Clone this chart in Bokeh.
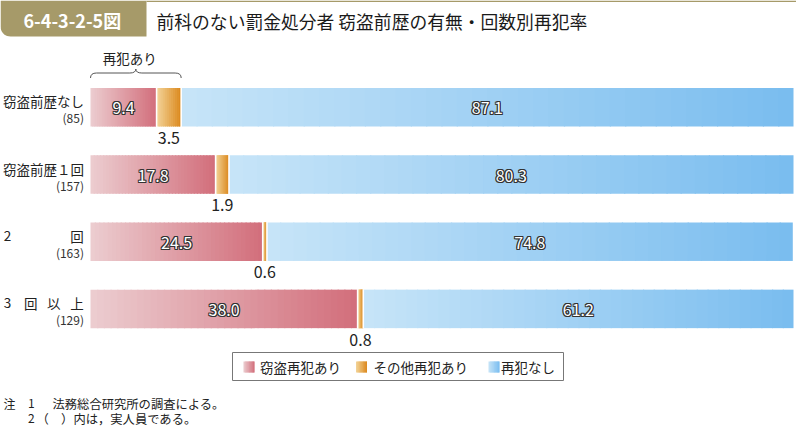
import numpy as np
from bokeh.plotting import figure
from bokeh.models import Range1d
from bokeh.core.properties import value
from bokeh.embed import file_html
from bokeh.resources import INLINE

# ---------------- data ----------------
fig_no = "6-4-3-2-5図"
title = "前科のない罰金処分者 窃盗前歴の有無・回数別再犯率"
categories = ["窃盗前歴なし", "窃盗前歴１回", "2　回", "3　回　以　上"]
counts = ["(85)", "(157)", "(163)", "(129)"]
theft_recid = [9.4, 17.8, 24.5, 38.0]     # 窃盗再犯あり
other_recid = [3.5, 1.9, 0.6, 0.8]        # その他再犯あり
no_recid = [87.1, 80.3, 74.8, 61.2]       # 再犯なし
legend_labels = ["窃盗再犯あり", "その他再犯あり", "再犯なし"]
brace_label = "再犯あり"
notes = [("注", "1", "法務総合研究所の調査による。"),
         ("", "2", "（　）内は，実人員である。")]

# ---------------- layout ----------------
FONT = value("Noto Sans CJK JP")
X0PX, PXU = 90.0, 7.03          # pixel of 0 %, pixels per %
ROW0, STEP, BAR_H = 106.8, 67.2, 38.5
W, H = 796, 427


def px(xref):
    return (xref - X0PX) / PXU


p = figure(width=W, height=H, x_range=Range1d(px(0), px(W)),
           y_range=Range1d(H, 0), output_backend="svg",
           toolbar_location=None, x_axis_type=None, y_axis_type=None,
           min_border=0, min_border_left=0, min_border_right=0,
           min_border_top=0, min_border_bottom=0)
p.grid.visible = False
p.outline_line_color = None
p.background_fill_color = "white"
p.border_fill_color = "white"

theft = np.array(theft_recid)
other = np.array(other_recid)
nore = np.array(no_recid)
ys = ROW0 + STEP * np.arange(len(categories))

RED = ((236, 205, 208), (210, 110, 123))
ORA = ((243, 213, 155), (219, 136, 28))
BLU = ((199, 228, 248), (121, 189, 239))


def hexc(c):
    return "#%02x%02x%02x" % tuple(int(round(v)) for v in c)


def grad(lefts, widths, yc, hgt, cols, n=40):
    c0, c1 = np.array(cols[0], float), np.array(cols[1], float)
    lefts, widths = np.asarray(lefts, float), np.asarray(widths, float)
    ov = 1.2 / PXU
    for k in range(n):
        t = (k + 0.5) / n
        col = hexc(c0 + (c1 - c0) * t)
        L = lefts + widths * k / n
        R = lefts + widths * (k + 1) / n
        if k < n - 1:
            R = np.minimum(R + ov, lefts + widths)
        p.hbar(y=yc, left=L, right=R, height=hgt, fill_color=col,
               line_color=None)


grad(np.zeros(4), theft, ys, BAR_H, RED)
grad(theft, other, ys, BAR_H, ORA, n=12)
grad(theft + other, nore, ys, BAR_H, BLU)

# white separators
b1 = theft
b2 = theft + other
p.segment(x0=np.r_[b1, b2], x1=np.r_[b1, b2],
          y0=np.r_[ys, ys] - BAR_H / 2 - 0.5, y1=np.r_[ys, ys] + BAR_H / 2 + 0.5,
          line_color="white", line_width=1.6)


def halo_text(xs, yv, labels):
    # thin dark outline by offset copies, white text on top
    offs = [(-1, 0), (1, 0), (0, -1), (0, 1),
            (-1, -1), (1, -1), (-1, 1), (1, 1)]
    for dx, dy in offs:
        p.text(x=xs, y=yv, text=labels, x_offset=dx, y_offset=dy,
               text_font=FONT, text_font_size="16px", text_color="#333333",
               text_align="center", text_baseline="middle")
    p.text(x=xs, y=yv, text=labels, text_font=FONT, text_font_size="16px",
           text_color="white", text_align="center", text_baseline="middle")


halo_text(theft / 2, ys + 1, ["%.1f" % v for v in theft])
halo_text(theft + other + nore / 2, ys + 1, ["%.1f" % v for v in nore])

# small segment labels below
p.text(x=theft + other / 2, y=ys + BAR_H / 2 + 11.5,
       text=["%.1f" % v for v in other], text_font=FONT,
       text_font_size="16px", text_color="#222222", text_align="center",
       text_baseline="middle")

# category labels
for cat, cnt, y in zip(categories, counts, ys):
    parts = cat.split("　")
    if len(parts) == 1:
        p.text(x=[px(83.5)], y=[y - 6], text=[cat], text_font=FONT,
               text_font_size="13.5px", text_color="#222222",
               text_align="right", text_baseline="middle")
    else:
        first, last = 7.0, 76.5
        n = len(parts)
        xs = [px(first + (last - first) * i / (n - 1)) for i in range(n)]
        p.text(x=xs, y=[y - 6] * n, text=parts, text_font=FONT,
               text_font_size="13.5px", text_color="#222222",
               text_align="center", text_baseline="middle")
    p.text(x=[px(83.5)], y=[y + 10.5], text=[cnt], text_font=FONT,
           text_font_size="12px", text_color="#333333", text_align="right",
           text_baseline="middle")

# brace over 再犯あり (first row)
bx0, bx1 = 0.0, theft[0] + other[0]
mid = (bx0 + bx1) / 2
d = 6 / PXU
yb, yl, yp = 77.5, 72.5, 68.5
p.quadratic(x0=[bx0, bx1], y0=[yb, yb], x1=[bx0 + d, bx1 - d], y1=[yl, yl],
            cx=[bx0, bx1], cy=[yl, yl], line_color="#555555", line_width=1)
p.segment(x0=[bx0 + d, mid + d], x1=[mid - d, bx1 - d], y0=[yl, yl],
          y1=[yl, yl], line_color="#555555", line_width=1)
p.quadratic(x0=[mid - d, mid + d], y0=[yl, yl], x1=[mid, mid], y1=[yp, yp],
            cx=[mid, mid], cy=[yl, yl], line_color="#555555", line_width=1)
p.text(x=[mid - 6 / PXU], y=[57], text=[brace_label], text_font=FONT,
       text_font_size="13.5px", text_color="#222222", text_align="center",
       text_baseline="middle")

# header tab with rounded bottom-left corner
r = 10
arc = np.linspace(np.pi / 2, np.pi, 10)
tx = [px(0), px(146), px(146)] + [px(r + r * np.cos(a)) for a in arc]
ty = [0, 0, 36] + [36 - r + r * np.sin(a) for a in arc]
p.patch(x=tx, y=ty, fill_color="#a69a69", line_color=None)
p.segment(x0=[px(146)], x1=[px(796)], y0=[0.8], y1=[0.8],
          line_color="#a69a69", line_width=1.5)
p.text(x=[px(23)], y=[19], text=[fig_no], text_font=FONT,
       text_font_size="18px", text_font_style="bold", text_color="white",
       text_align="left", text_baseline="middle")
p.text(x=[px(156)], y=[20], text=[title], text_font=FONT,
       text_font_size="17.8px", text_color="#1a1a1a", text_align="left",
       text_baseline="middle")

# legend (manual)
p.rect(x=[px((232 + 563) / 2)], y=[366], width=331 / PXU, height=28,
       fill_color="white", line_color="#777777", line_width=1)
sq_left = [243, 355.5, 488]
txt_left = [259.5, 373, 500.5]
for cols, sl, tl, lab in zip((RED, ORA, BLU), sq_left, txt_left, legend_labels):
    grad([px(sl)], [11 / PXU], [366.5], 11, cols, n=8)
    p.text(x=[px(tl)], y=[366], text=[lab], text_font=FONT,
           text_font_size="13.5px", text_color="#222222", text_align="left",
           text_baseline="middle")

# notes
for i, (a, b, c) in enumerate(notes):
    y = 403 + 15 * i
    if a:
        p.text(x=[px(3)], y=[y], text=[a], text_font=FONT,
               text_font_size="12px", text_color="#222222",
               text_baseline="middle")
    p.text(x=[px(27.5)], y=[y], text=[b], text_font=FONT,
           text_font_size="12px", text_color="#222222", text_baseline="middle")
    p.text(x=[px(52 if i == 0 else 36)], y=[y], text=[c], text_font=FONT,
           text_font_size="12.3px", text_color="#222222",
           text_baseline="middle")

open("out.html", "w").write(file_html(p, INLINE))
